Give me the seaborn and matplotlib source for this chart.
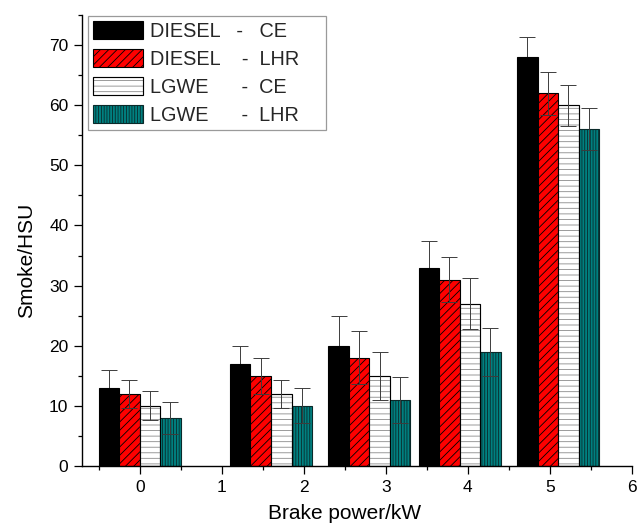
import numpy as np
import pandas as pd
import matplotlib
matplotlib.use("Agg")
import matplotlib.pyplot as plt
import seaborn as sns
from matplotlib.patches import Rectangle
from matplotlib.legend_handler import HandlerTuple
from matplotlib.ticker import MultipleLocator

# Brake power levels (kW) and smoke opacity (HSU) for each fuel / engine configuration
power = [0, 1.6, 2.8, 3.9, 5.1]
series_labels = ["DIESEL   -   CE", "DIESEL    -  LHR", "LGWE      -  CE", "LGWE      -  LHR"]
diesel_ce = [13, 17, 20, 33, 68]
diesel_lhr = [12, 15, 18, 31, 62]
lgwe_ce = [10, 12, 15, 27, 60]
lgwe_lhr = [8, 10, 11, 19, 56]
err_diesel_ce = [3.0, 3.0, 5.0, 4.4, 3.4]
err_diesel_lhr = [2.3, 3.0, 4.4, 3.8, 3.6]
err_lgwe_ce = [2.4, 2.3, 4.0, 4.2, 3.4]
err_lgwe_lhr = [2.6, 2.9, 3.8, 4.0, 3.5]

values = [diesel_ce, diesel_lhr, lgwe_ce, lgwe_lhr]
errors = [err_diesel_ce, err_diesel_lhr, err_lgwe_ce, err_lgwe_lhr]
fill_colors = ["#000000", "#ff0000", "#ffffff", "#008080"]
hatches = [None, "////", "---", "||||||"]

sns.set_theme(style="ticks")
plt.rcParams["font.family"] = ["Liberation Sans", "DejaVu Sans"]
plt.rcParams["hatch.linewidth"] = 0.6
plt.rcParams["axes.linewidth"] = 1.0

df = pd.DataFrame({
    "power": np.tile(power, len(values)),
    "smoke": np.concatenate(values),
    "fuel": np.repeat(series_labels, len(power)),
})

fig = plt.figure(figsize=(6.41, 5.28), dpi=100)
ax = fig.add_axes([82.3 / 641, 62 / 528, 549.7 / 641, 451 / 528])

# each group of four bars spans one unit on the power axis
min_gap = np.diff(power).min()
sns.barplot(
    data=df, x="power", y="smoke", hue="fuel", hue_order=series_labels,
    palette=dict(zip(series_labels, fill_colors)), native_scale=True,
    width=1.0 / min_gap, gap=0, errorbar=None, saturation=1, legend=False,
    edgecolor="black", linewidth=0.8, ax=ax,
)

bar_containers = list(ax.containers)
legend_handles = []
for i, cont in enumerate(bar_containers):
    overlays = []
    for p in cont.patches:
        p.set_zorder(2)
        if hatches[i]:
            p.set_hatch(hatches[i])
        if i == 2:
            # grey hatch lines, black outline drawn on top
            p.set_edgecolor("#8a8a8a")
            r = Rectangle(p.get_xy(), p.get_width(), p.get_height(), fill=False,
                          edgecolor="black", linewidth=0.8, zorder=2.5)
            ax.add_patch(r)
            overlays.append(r)
        elif i == 3:
            p.set_edgecolor("#0a2a2a")
    xs = [p.get_x() + p.get_width() / 2 for p in cont.patches]
    hs = [p.get_height() for p in cont.patches]
    # the solid black bars hide the lower half of their error bars
    ax.errorbar(xs, hs, yerr=errors[i], fmt="none", ecolor="#3c3c3c",
                elinewidth=0.7, capsize=5.5, capthick=0.7,
                zorder=1.5 if i == 0 else 3)
    if overlays:
        legend_handles.append((cont.patches[0], overlays[0]))
    else:
        legend_handles.append(cont.patches[0])

ax.set_xlim(-0.7, 6.0)
ax.set_ylim(0, 75)
ax.xaxis.set_major_locator(MultipleLocator(1))
ax.xaxis.set_minor_locator(MultipleLocator(0.5))
ax.yaxis.set_major_locator(MultipleLocator(10))
ax.yaxis.set_minor_locator(MultipleLocator(5))
ax.tick_params(which="major", direction="out", length=6, width=0.9, labelsize=12.5,
               pad=4, color="black", labelcolor="black")
ax.tick_params(which="minor", direction="out", length=3.2, width=0.9, color="black")
sns.despine(ax=ax)
for s in ("left", "bottom"):
    ax.spines[s].set_color("black")

ax.set_xlabel("Brake power/kW", fontsize=15, color="black")
ax.set_ylabel("Smoke/HSU", fontsize=15, color="black")
ax.xaxis.set_label_coords(0.477, -0.085)
ax.yaxis.set_label_coords(-0.085, 0.457)

leg = ax.legend(
    legend_handles, [s + "    " for s in series_labels], loc="upper left",
    bbox_to_anchor=(0.0104, 0.998),
    borderaxespad=0, fontsize=14.3, frameon=True, fancybox=False, framealpha=1,
    edgecolor="#9a9a9a", handlelength=2.5, handleheight=1.0, handletextpad=0.35,
    labelspacing=0.42, borderpad=0.25,
    handler_map={tuple: HandlerTuple(ndivide=1, pad=0)},
)
leg.get_frame().set_linewidth(0.9)

fig.savefig("out.png", dpi=100)
